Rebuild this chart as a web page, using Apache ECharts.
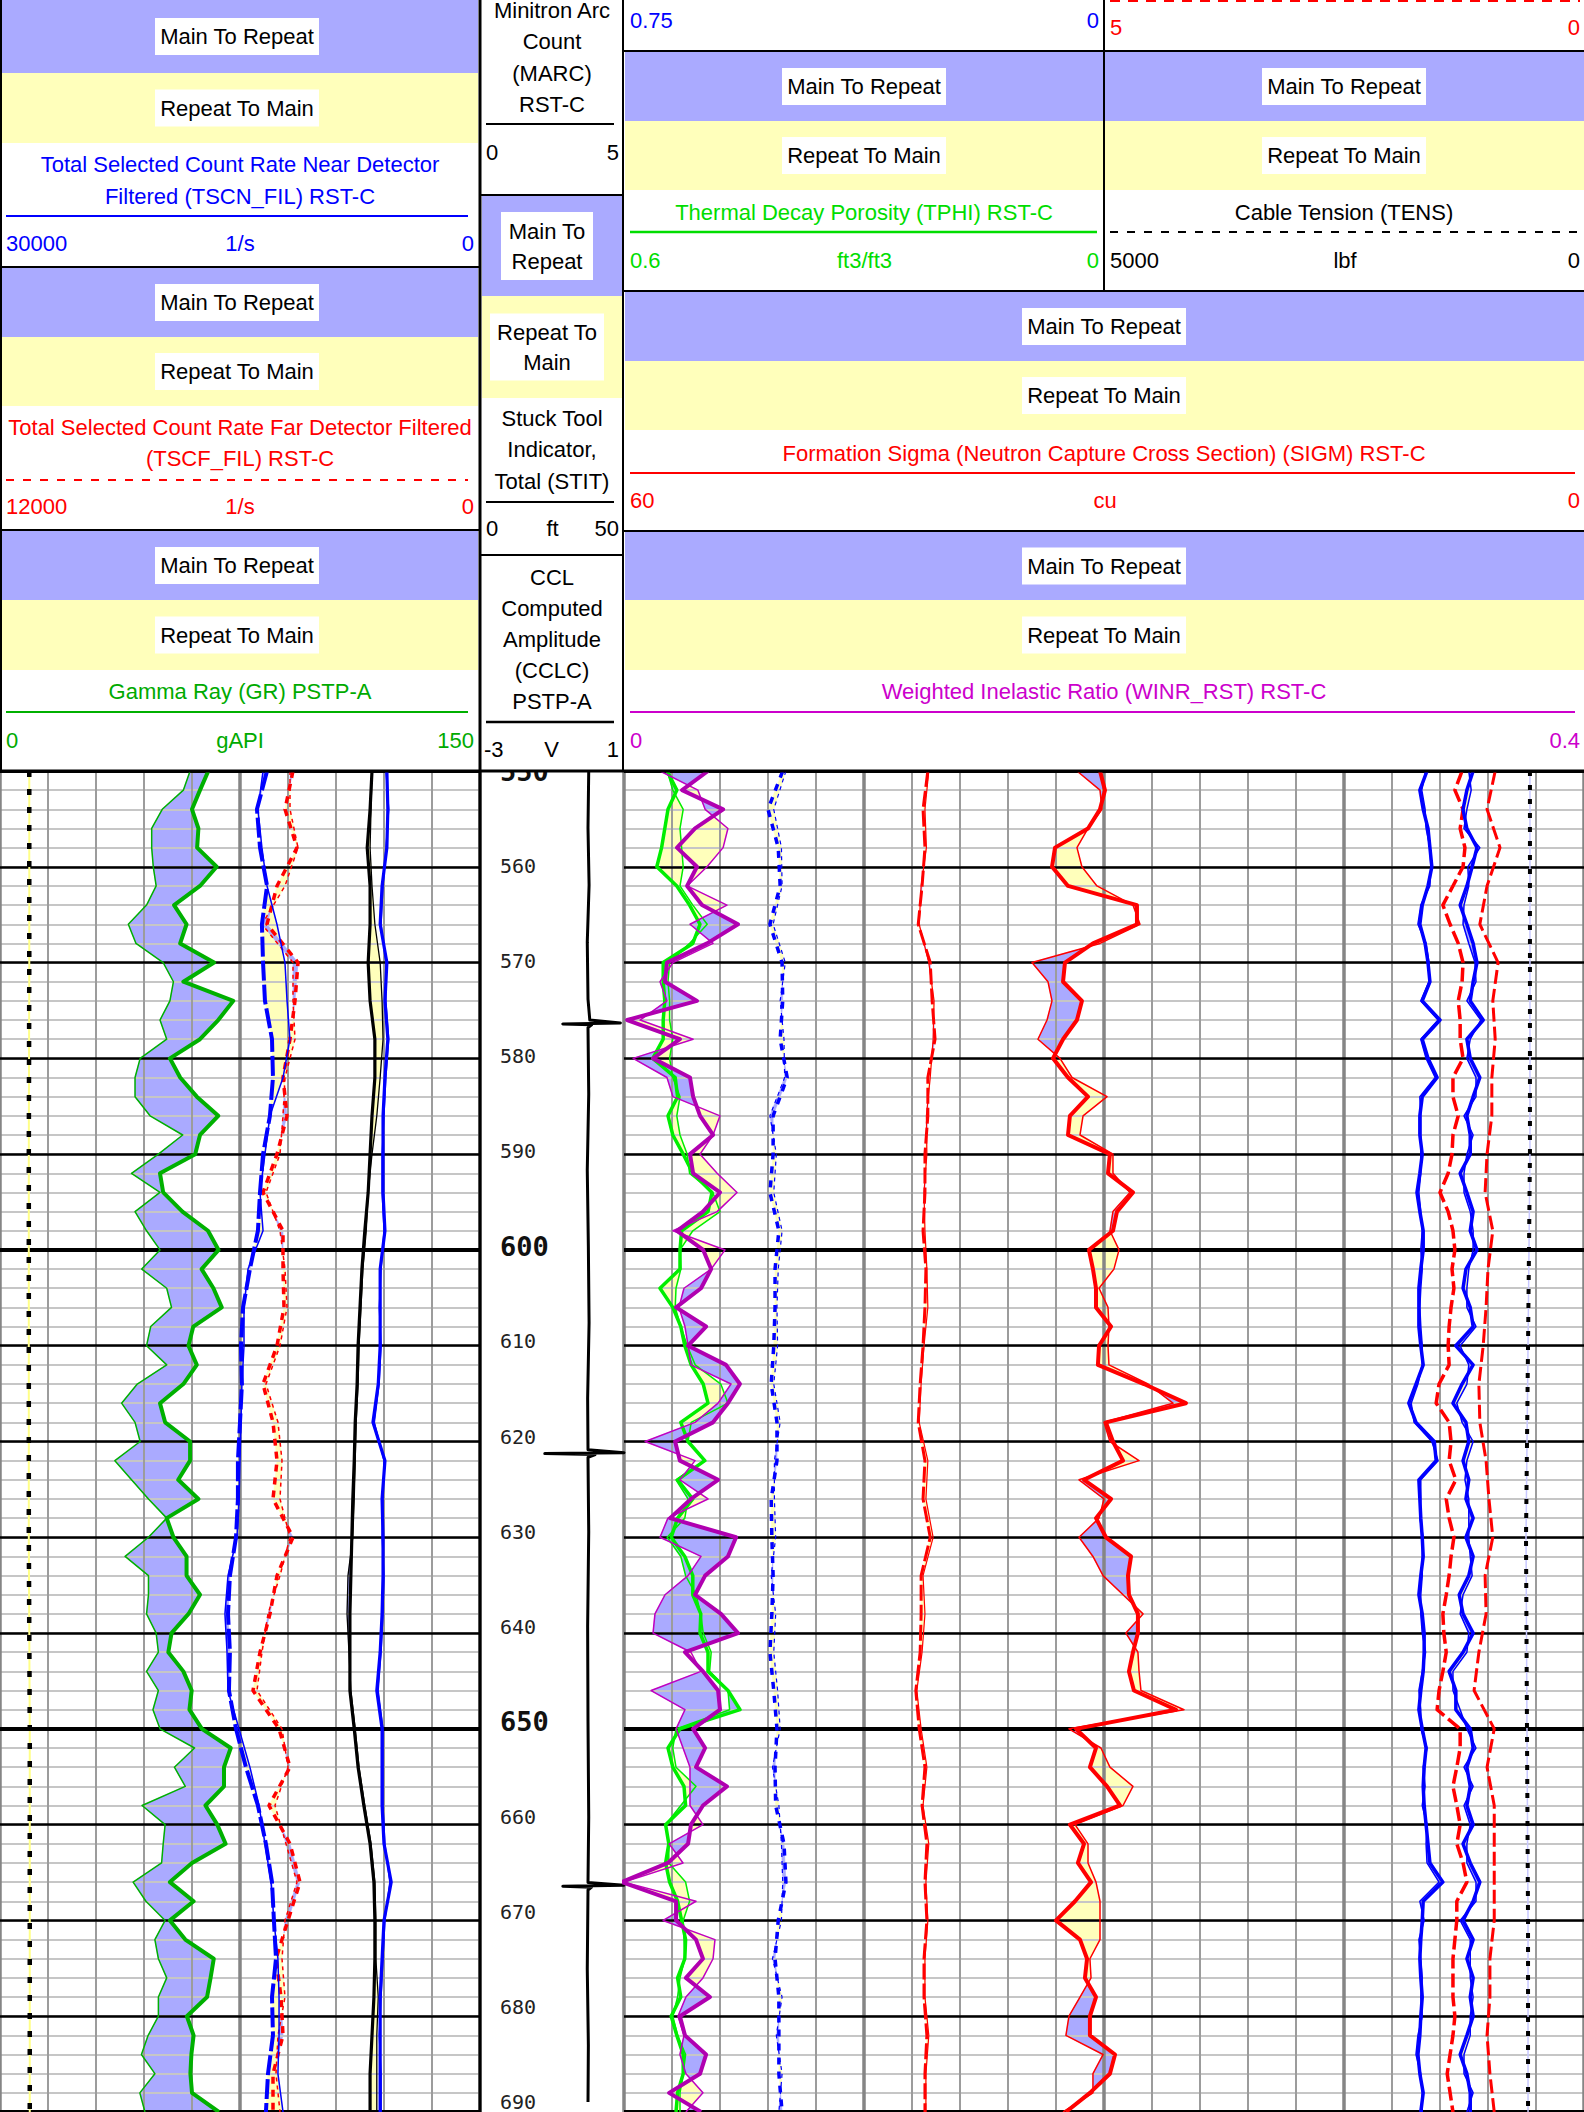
<!DOCTYPE html>
<html>
<head>
<meta charset="utf-8">
<title>Main / Repeat pass comparison log</title>
<script src="https://cdn.jsdelivr.net/npm/echarts@6.0.0/dist/echarts.min.js"></script>
<style>
  html, body { margin: 0; padding: 0; background: #fff; }
  #chart { width: 1584px; height: 2112px; }
</style>
</head>
<body>
<div id="chart"></div>
<script>
// ---- depth sampling (ft) ----
const depth2 = [550,552,554,556,558,560,562,564,566,568,570,572,574,576,578,580,582,584,586,588,590,592,594,596,598,600,
  602,604,606,608,610,612,614,616,618,620,622,624,626,628,630,632,634,636,638,640,642,644,646,648,
  650,652,654,656,658,660,662,664,666,668,670,672,674,676,678,680,682,684,686,688,690];
const depth4 = [550,554,558,562,566,570,574,578,582,586,590,594,598,602,606,610,614,618,622,626,630,634,638,642,646,650,654,658,662,666,670,674,678,682,686,690];
const depthMarks = [550,570,590,610,630,650,670,690];

// ---- track 1 ----
// Gamma Ray (gAPI), main and repeat pass
const grMain = [65.1,62.5,60,62,61.6,67.7,62.5,54.4,58.3,56.3,66.9,57.3,72.9,68.2,62.5,53.1,56.3,61.5,68.2,62.5,61,50,51,57,65,68.3,
  63,66.7,69.3,60.4,58.9,61.5,57.3,50,51.6,59.4,59.4,55.7,62,52.1,54.2,58.3,58.3,62.5,58.9,53.6,52.6,57.3,59.9,59.2,
  63.1,72.1,70,70,64.2,67.9,70.5,60,53.1,60.5,53.1,57.9,66.8,65.8,64.7,58.4,60.5,59.8,59.5,60,68.4];
const grRepeat = [59.4,57.3,50.7,47.4,47.4,47.9,48.8,45.8,40.1,42.5,51,54.2,53.1,50,52.1,43.8,42.2,42.2,46.9,57.1,49.5,41.1,50,42.2,45.8,50,
  44.3,52.1,53.6,47.1,45.8,52.1,42.9,38,42.2,43.8,35.9,41.1,46.4,52.1,46.4,39.1,46.4,46.4,45.8,48.8,49.5,45.8,49.5,47.8,
  50,60.8,54.5,57.9,44.4,51.6,51,50.5,41.6,45.6,51.6,48.4,49.5,52.1,49.5,49.5,46.3,44.2,48.4,43.7,45.3];
// Near / far detector count rates (1/s)
const tscnMain = [13310,13940,13750,13310,13630,13560,13440,13000,12940,13130,13560,13750,13880,14380,14810,14940,14880,15000,
  15130,15130,15250,15630,15750,15630,15690,15250,14630,13880,13380,13000,12880,12750,13000,12940,13250,13380];
const tscnRepeat = [13560,13880,13630,13310,12690,12190,12060,11880,12310,13130,13440,13750,13560,14500,14750,14750,14880,14940,
  15000,15060,15190,15750,15940,15810,15750,15060,14380,13810,13440,13060,12880,12630,12560,12560,12630,12310];
const tscfMain = [4675,4875,4575,5075,5325,4550,4625,4750,4925,4825,5075,5425,4925,4925,4900,5075,5425,5175,
  5075,5175,4675,5075,5250,5500,5675,5025,4750,5275,4750,4500,4800,5100,4975,4925,5175,5175];
const tscfRepeat = [4750,4750,4550,4875,5450,4675,4675,4625,4875,4925,5000,5350,5000,4875,4825,5000,5350,5050,
  4950,5000,4750,5000,5300,5450,5575,4950,4800,5125,4850,4575,4875,4950,4875,5050,5100,5000];
// curves whose headers are above the visible part (track divisions)
const trk1BlackMain = [7.75,7.71,7.65,7.71,7.71,7.67,7.71,7.81,7.81,7.75,7.71,7.67,7.6,7.54,7.5,7.46,7.44,7.4,
  7.38,7.35,7.33,7.31,7.29,7.29,7.29,7.38,7.46,7.58,7.71,7.79,7.81,7.81,7.79,7.75,7.71,7.71];
const trk1BlackRepeat = [7.75,7.73,7.71,7.75,7.81,7.92,7.96,7.98,7.92,7.85,7.75,7.67,7.63,7.56,7.52,7.48,7.46,7.42,
  7.4,7.38,7.35,7.25,7.23,7.27,7.31,7.4,7.48,7.6,7.73,7.81,7.83,7.83,7.88,7.85,7.85,7.85];
const trk1BlueMain = [8.06,8.08,8.06,7.96,7.92,8.06,8.02,8.08,8.02,7.98,7.98,7.98,8.02,7.92,7.92,7.92,7.88,7.77,
  8.02,7.96,7.98,7.98,7.96,7.92,7.85,7.96,7.96,7.96,8,8.15,8,7.96,7.92,7.92,7.92,7.92];
const trk1BlueRepeat = [8.04,8.1,8.04,7.98,7.94,8.04,8.04,8.1,8.04,8,7.96,7.96,8,7.94,7.9,7.94,7.9,7.8,
  8,7.98,7.96,8,7.98,7.94,7.88,7.98,7.98,7.98,8.02,8.12,8.02,7.98,7.94,7.9,7.94,7.94];
const trk1Dots = [0.61,0.61,0.6,0.6,0.6,0.62,0.62,0.62];

// ---- depth column: CCL amplitude (V) ----
const cclDepth = [550,556,562,568,574,576.2,576.5,576.6,576.7,577,584,592,600,608,616,621.4,621.7,621.8,621.9,622.2,
  630,640,650,660,666.9,667.2,667.3,667.4,667.7,676,684,690];
const cclValue = [0.02,0,0.03,-0.02,0,0.05,0.9,-0.7,0.1,0,0.02,-0.02,0.01,0.03,-0.01,0,1,-1.2,0.2,0,
  0.02,-0.01,0,0.02,0,1,-0.7,0.1,0,-0.02,0.01,0];

// ---- tracks 2 + 3 ----
// Weighted inelastic ratio
const winrMain = [0.035,0.0242,0.0413,0.0296,0.0221,0.0304,0.0263,0.0325,0.0475,0.0346,0.0179,0.0171,0.0304,0.0013,0.0233,0.0121,0.0275,0.0288,0.0317,0.0371,0.0275,0.0288,0.04,0.0329,0.0221,0.033,
  0.0363,0.0321,0.0217,0.0342,0.0267,0.0425,0.0483,0.0433,0.0371,0.0213,0.0233,0.0392,0.0279,0.0192,0.0467,0.0433,0.0338,0.0296,0.0404,0.0475,0.0254,0.0329,0.0392,0.04,
  0.0288,0.0338,0.03,0.0429,0.0329,0.0279,0.0267,0.0183,-0.001,0.0217,0.0217,0.03,0.0329,0.0258,0.0358,0.0233,0.0254,0.0342,0.0317,0.0188,0.0321];
const winrRepeat = [0.015,0.0308,0.0338,0.0433,0.0413,0.0346,0.0263,0.0429,0.0275,0.0371,0.0204,0.015,0.0179,0.0067,0.0288,0.0038,0.0179,0.0204,0.04,0.0371,0.0317,0.0388,0.0471,0.0388,0.0204,0.0421,
  0.0363,0.025,0.0229,0.0254,0.0267,0.0279,0.0446,0.0392,0.0296,0.0088,0.0296,0.0233,0.035,0.0183,0.015,0.0321,0.0267,0.0171,0.0129,0.0121,0.0279,0.0321,0.0113,0.0254,
  0.0217,0.0246,0.0275,0.0275,0.0275,0.0329,0.0188,0.0246,0,0.03,0.0163,0.0379,0.0371,0.0329,0.0258,0.0225,0.025,0.0233,0.0258,0.0329,0.0258];
// Thermal decay porosity (ft3/ft3)
const tphiMain = [0.546,0.534,0.545,0.549,0.553,0.559,0.534,0.518,0.505,0.514,0.551,0.551,0.549,0.551,0.551,0.564,0.536,0.533,0.545,0.539,0.526,0.514,0.49,0.495,0.528,0.53,
  0.53,0.555,0.539,0.529,0.524,0.516,0.501,0.495,0.529,0.52,0.499,0.533,0.514,0.533,0.541,0.524,0.514,0.514,0.504,0.505,0.495,0.495,0.47,0.455,
  0.53,0.545,0.539,0.525,0.523,0.548,0.544,0.548,0.543,0.533,0.528,0.523,0.524,0.533,0.529,0.541,0.534,0.526,0.526,0.533,0.535];
const tphiRepeat = [0.546,0.539,0.526,0.53,0.528,0.526,0.53,0.514,0.496,0.518,0.543,0.545,0.543,0.543,0.539,0.543,0.539,0.53,0.534,0.53,0.521,0.518,0.489,0.48,0.514,0.53,
  0.529,0.535,0.536,0.529,0.521,0.511,0.479,0.47,0.516,0.52,0.499,0.535,0.52,0.524,0.546,0.529,0.523,0.51,0.504,0.501,0.491,0.493,0.47,0.468,
  0.535,0.539,0.535,0.51,0.529,0.548,0.544,0.544,0.523,0.518,0.526,0.525,0.524,0.53,0.533,0.539,0.533,0.523,0.526,0.53,0.53];
// Formation sigma (cu)
const sigmMain = [30.25,29.94,30.25,31,33.06,33.25,32.25,27.94,27.94,30.69,32.44,32.56,31.38,31.69,32.56,33.19,32.25,31,32.13,32.25,29.63,29.75,28.19,29.19,29.44,30.94,
  30.69,30.5,30.5,29.56,30.31,30.38,27.5,24.88,29.88,29.44,28.81,31.25,29.56,30.5,29.88,28.31,28.5,28.44,27.88,27.88,28.19,28.44,28.13,25.5,
  31.75,30.5,30.88,29.81,29,32.13,31.25,31.63,30.81,31.81,33,31.5,31.06,31.19,30.5,30.88,30.88,29.31,29.63,30.88,32.38];
const sigmRepeat = [31.69,30.25,30.13,31,31.69,31.38,30.44,28.19,27.75,30.25,34.5,33.5,33.25,33.56,34.13,32.75,32,29.81,31.31,31.5,29.44,29.44,28.38,29.44,29.63,29.06,
  29.38,30.31,29.75,29.69,29.75,29.69,27.25,25.69,30,29.63,27.81,31.56,30,30.31,31.56,30.69,30.06,28.81,27.56,28.63,27.88,27.81,27.69,25,
  32.19,30.19,29.63,28.19,28.81,31.81,31,31,30.5,30.25,30.25,30.25,30.88,30.81,31.5,32.19,32.38,30.06,30.69,30.69,32.56];
// blue dashed curve on the 0.75 - 0 scale
const blueDashMain = [0.502,0.525,0.509,0.506,0.522,0.503,0.502,0.506,0.495,0.517,0.517,0.522,0.508,0.514,0.514,0.516,0.52,0.511,
  0.511,0.52,0.519,0.517,0.519,0.522,0.516,0.511,0.514,0.513,0.5,0.497,0.509,0.514,0.508,0.508,0.508,0.503];
const blueDashRepeat = [0.497,0.516,0.504,0.503,0.517,0.498,0.506,0.5,0.499,0.522,0.512,0.516,0.503,0.509,0.511,0.51,0.516,0.506,
  0.515,0.515,0.513,0.52,0.513,0.516,0.51,0.506,0.518,0.508,0.504,0.502,0.504,0.518,0.503,0.512,0.503,0.508];
// red dashed curve in track 2 (track divisions)
const redDashMain = [6.33,6.23,6.27,6.21,6.13,6.38,6.42,6.48,6.33,6.33,6.27,6.27,6.23,6.29,6.27,6.23,6.17,6.13,
  6.27,6.23,6.38,6.19,6.19,6.17,6.08,6.15,6.27,6.21,6.31,6.27,6.31,6.25,6.25,6.31,6.27,6.27];
const redDashRepeat = [6.35,6.27,6.3,6.19,6.15,6.35,6.46,6.44,6.38,6.3,6.31,6.25,6.27,6.31,6.33,6.25,6.19,6.15,
  6.33,6.29,6.44,6.23,6.27,6.21,6.1,6.19,6.31,6.23,6.35,6.29,6.33,6.27,6.27,6.35,6.29,6.29];
// track 3 curves (divisions from the track 3 left edge)
const trk3BlueMain = [6.73,6.58,6.65,6.75,6.79,6.83,6.75,6.63,6.58,6.69,6.75,6.79,6.63,7,6.63,6.75,6.94,6.63,6.58,6.58,6.63,6.58,6.52,6.58,6.65,6.65,
  6.6,6.56,6.56,6.56,6.6,6.65,6.5,6.35,6.5,6.88,6.92,6.56,6.58,6.6,6.63,6.65,6.6,6.56,6.63,6.67,6.67,6.65,6.6,6.56,
  6.63,6.71,6.67,6.65,6.67,6.71,6.75,6.79,7.06,6.65,6.63,6.6,6.58,6.6,6.63,6.6,6.58,6.54,6.58,6.65,6.6];
const trk3BlueRepeat = [6.7,6.62,6.69,6.71,6.79,6.81,6.79,6.6,6.54,6.71,6.77,6.77,6.6,6.96,6.6,6.71,6.9,6.58,6.6,6.6,6.6,6.6,6.56,6.6,6.63,6.6,
  6.63,6.6,6.58,6.6,6.63,6.63,6.54,6.4,6.46,6.83,6.96,6.6,6.6,6.58,6.65,6.63,6.63,6.6,6.6,6.63,6.7,6.63,6.56,6.6,
  6.6,6.73,6.65,6.69,6.63,6.73,6.71,6.73,6.98,6.58,6.67,6.56,6.6,6.63,6.6,6.63,6.54,6.5,6.6,6.63,6.63];
const trk3JagMain = [7.69,7.56,7.48,7.56,7.77,7.67,7.56,7.42,7.56,7.69,7.77,7.69,7.63,7.9,7.56,7.63,7.83,7.69,7.56,7.63,7.63,7.42,7.56,7.69,7.63,7.77,
  7.54,7.48,7.63,7.69,7.33,7.69,7.46,7.27,7.54,7.6,7.48,7.6,7.54,7.69,7.54,7.69,7.6,7.4,7.48,7.69,7.48,7.19,7.33,7.33,
  7.63,7.69,7.56,7.63,7.56,7.69,7.48,7.63,7.83,7.69,7.48,7.69,7.56,7.69,7.63,7.69,7.56,7.42,7.56,7.63,7.63];
const trk3JagRepeat = [7.6,7.65,7.56,7.5,7.83,7.58,7.6,7.5,7.48,7.6,7.73,7.75,7.56,7.85,7.63,7.56,7.75,7.75,7.5,7.69,7.56,7.5,7.5,7.63,7.69,7.69,
  7.6,7.56,7.56,7.75,7.42,7.6,7.56,7.35,7.46,7.69,7.56,7.52,7.6,7.6,7.6,7.63,7.67,7.48,7.42,7.6,7.56,7.27,7.27,7.42,
  7.56,7.75,7.5,7.69,7.5,7.63,7.56,7.56,7.75,7.75,7.42,7.63,7.63,7.63,7.69,7.63,7.63,7.5,7.5,7.69,7.56];
const trk3RedLeft = [7.46,7.31,7.48,7.42,7.52,7.48,7.27,7.06,7.21,7.38,7.48,7.46,7.38,7.42,7.42,7.48,7.27,7.27,7.38,7.27,7.25,7.17,7,7.17,7.27,7.31,
  7.25,7.29,7.23,7.19,7.17,7.19,6.98,6.92,7.19,7.23,7.19,7.33,7.13,7.19,7.29,7.23,7.19,7.13,7.06,7.08,7.13,7.06,6.98,6.94,
  7.42,7.42,7.35,7.27,7.35,7.42,7.35,7.48,7.56,7.35,7.35,7.31,7.27,7.27,7.27,7.31,7.27,7.21,7.15,7.21,7.27];
const trk3RedRight = [8.15,7.98,8.25,7.98,7.83,8.21,8.1,8.15,8.08,8.08,7.98,7.94,8.1,8,7.96,7.9,7.81,7.83,
  7.96,8.02,8.1,7.94,7.96,7.81,7.71,8.13,7.98,8.13,8.13,8.13,8.13,8.04,8.04,7.98,8.04,8.13];
// Cable tension (lbf)
const tensValue = [563,563,563,583,604,594,583,583];

// ---- styling ----
const BLUE_FILL = '#aaaaff';
const YELLOW_FILL = '#ffffbb';
const FONT = '"Liberation Sans", Arial, sans-serif';
const MONO = '"DejaVu Sans Mono", monospace';

// ---------------- header (graphic elements) ----------------
const header = [];

function box(x, y, w, h, fill) {
  header.push({ type: 'rect', z: 100, silent: true, shape: { x, y, width: w, height: h }, style: { fill } });
}

function rule(x1, y1, x2, y2, stroke, width, dash) {
  const style = { stroke, lineWidth: width };
  if (dash) style.lineDash = dash;
  header.push({ type: 'line', z: 101, silent: true, shape: { x1, y1, x2, y2 }, style });
}

function label(text, x, y, fill, align) {
  const a = align || 'center';
  header.push({
    type: 'text', z: 102, silent: true, x, y,
    style: { text, fill, fontSize: 22, fontFamily: FONT, align: a, verticalAlign: 'middle', textAlign: a, textVerticalAlign: 'middle' }
  });
}

// white tag with black text sitting on a band
function tag(lines, cx, cy, w, h) {
  box(cx - w / 2, cy - h / 2, w, h, '#fff');
  lines.forEach((t, i) => label(t, cx, cy + (i - (lines.length - 1) / 2) * 30, '#000'));
}

// Main To Repeat / Repeat To Main bands of one header block
function bands(x, w, top, mid, bottom, cx) {
  box(x, top, w, mid - top, BLUE_FILL);
  box(x, mid, w, bottom - mid, YELLOW_FILL);
  tag(['Main To Repeat'], cx, (top + mid) / 2, 164, 37);
  tag(['Repeat To Main'], cx, (mid + bottom) / 2, 164, 37);
}

function scaleRow(y, x1, x2, left, mid, right, color) {
  label(left, x1, y, color, 'left');
  if (mid) label(mid, (x1 + x2) / 2, y, color, 'center');
  label(right, x2, y, color, 'right');
}

function buildHeader() {
  box(0, 0, 1584, 771, '#fff');

  // left column: TSCN, TSCF, GR
  bands(2, 476, 0, 73, 143, 237);
  label('Total Selected Count Rate Near Detector', 240, 164, '#0000ff');
  label('Filtered (TSCN_FIL) RST-C', 240, 196, '#0000ff');
  rule(6, 216, 468, 216, '#0000ff', 2);
  scaleRow(243, 6, 474, '30000', '1/s', '0', '#0000ff');
  rule(0, 267, 480, 267, '#000', 2);

  bands(2, 476, 268, 337, 406, 237);
  label('Total Selected Count Rate Far Detector Filtered', 240, 427, '#ff0000');
  label('(TSCF_FIL) RST-C', 240, 458, '#ff0000');
  rule(6, 480, 468, 480, '#ff0000', 2, [8, 9]);
  scaleRow(506, 6, 474, '12000', '1/s', '0', '#ff0000');
  rule(0, 530, 480, 530, '#000', 2);

  bands(2, 476, 531, 600, 670, 237);
  label('Gamma Ray (GR) PSTP-A', 240, 691, '#00aa00');
  rule(6, 712, 468, 712, '#00b000', 2);
  scaleRow(740, 6, 474, '0', 'gAPI', '150', '#00aa00');

  // depth column
  ['Minitron Arc', 'Count', '(MARC)', 'RST-C'].forEach((t, i) => label(t, 552, 10 + i * 31.5, '#000'));
  rule(486, 124, 614, 124, '#000', 2);
  scaleRow(152, 486, 619, '0', '', '5', '#000');
  rule(480, 195, 623, 195, '#000', 2);
  box(482, 196, 140, 100, BLUE_FILL);
  box(482, 296, 140, 102, YELLOW_FILL);
  tag(['Main To', 'Repeat'], 547, 246, 92, 68);
  tag(['Repeat To', 'Main'], 547, 347, 114, 67);
  ['Stuck Tool', 'Indicator,', 'Total (STIT)'].forEach((t, i) => label(t, 552, 418 + i * 31.5, '#000'));
  rule(486, 502, 614, 502, '#000', 2);
  scaleRow(528, 486, 619, '0', 'ft', '50', '#000');
  rule(480, 555, 623, 555, '#000', 2);
  ['CCL', 'Computed', 'Amplitude', '(CCLC)', 'PSTP-A'].forEach((t, i) => label(t, 552, 577 + i * 31, '#000'));
  rule(486, 722, 614, 722, '#000', 2.5);
  scaleRow(749, 484, 619, '-3', 'V', '1', '#000');

  // right area: top remnants of blocks above
  label('0.75', 630, 20, '#0000ff', 'left');
  label('0', 1099, 20, '#0000ff', 'right');
  rule(1110, 1, 1580, 1, '#ff0000', 2, [10, 8]);
  label('5', 1110, 27, '#ff0000', 'left');
  label('0', 1580, 27, '#ff0000', 'right');
  rule(623, 51, 1584, 51, '#000', 2);

  // TPHI and TENS
  bands(625, 478, 52, 121, 190, 864);
  bands(1105, 479, 52, 121, 190, 1344);
  label('Thermal Decay Porosity (TPHI) RST-C', 864, 212, '#00dd00');
  rule(630, 232, 1097, 232, '#00dd00', 2.5);
  scaleRow(260, 630, 1099, '0.6', 'ft3/ft3', '0', '#00dd00');
  label('Cable Tension (TENS)', 1344, 212, '#000');
  rule(1110, 232, 1578, 232, '#000', 2, [8, 9]);
  scaleRow(260, 1110, 1580, '5000', 'lbf', '0', '#000');
  rule(1104, 0, 1104, 291, '#000', 2);
  rule(623, 291, 1584, 291, '#000', 2);

  // SIGM
  bands(625, 959, 292, 361, 430, 1104);
  label('Formation Sigma (Neutron Capture Cross Section) (SIGM) RST-C', 1104, 453, '#ff0000');
  rule(630, 473, 1575, 473, '#ff0000', 2);
  scaleRow(500, 630, 1580, '60', 'cu', '0', '#ff0000');
  rule(623, 531, 1584, 531, '#000', 2);

  // WINR
  bands(625, 959, 532, 600, 670, 1104);
  label('Weighted Inelastic Ratio (WINR_RST) RST-C', 1104, 691, '#cc00cc');
  rule(630, 712, 1575, 712, '#cc00cc', 2);
  scaleRow(740, 630, 1580, '0', '', '0.4', '#cc00cc');

  // frame
  rule(1, 0, 1, 771, '#000', 2);
  rule(480, 0, 480, 2112, '#000', 3);
  rule(623, 0, 623, 771, '#000', 2);
  rule(0, 771, 1584, 771, '#000', 3);
}

buildHeader();

// ---------------- axes ----------------
function hiddenX(gridIndex, min, max, extra) {
  return Object.assign({
    type: 'value', gridIndex, min, max,
    axisLine: { show: false }, axisTick: { show: false }, axisLabel: { show: false }, splitLine: { show: false }
  }, extra || {});
}

function gridX(gridIndex, max, interval, color, width, z) {
  return hiddenX(gridIndex, 0, max, { interval, z, splitLine: { show: true, lineStyle: { color, width } } });
}

function depthY(gridIndex, interval, color, width, z) {
  return {
    type: 'value', gridIndex, min: 550, max: 690, inverse: true, interval, z,
    axisLine: { show: false }, axisTick: { show: false }, axisLabel: { show: false },
    splitLine: { show: true, lineStyle: { color, width } }
  };
}

const xAxis = [
  gridX(0, 10, 1, '#9c9c9c', 2, 1),                 // 0 track 1 divisions
  gridX(0, 10, 5, '#858585', 3.5, 1),               // 1 track 1 heavy divisions
  hiddenX(0, 0, 150),                               // 2 GR
  hiddenX(0, 0, 30000, { inverse: true }),          // 3 TSCN
  hiddenX(0, 0, 12000, { inverse: true }),          // 4 TSCF
  hiddenX(1, -3, 1),                                // 5 CCL
  gridX(2, 20, 1, '#9c9c9c', 2, 1),                 // 6 tracks 2+3 divisions
  gridX(2, 20, 5, '#858585', 3.5, 1),               // 7 heavy divisions
  hiddenX(2, 0, 0.4),                               // 8 WINR
  hiddenX(2, 0, 60, { inverse: true }),             // 9 SIGM
  hiddenX(2, -0.6, 0.6, { inverse: true }),         // 10 TPHI (track 2 only)
  hiddenX(2, -0.75, 0.75, { inverse: true }),       // 11 blue dashed 0.75-0
  hiddenX(2, -10, 10),                              // 12 track 3 divisions
  hiddenX(2, 0, 10000, { inverse: true })           // 13 TENS (track 3 only)
];

const yAxis = [
  depthY(0, 2, '#c6c6c6', 2, 1),
  depthY(0, 10, '#000', 2.5, 2),
  depthY(0, 50, '#000', 4, 2),
  {
    type: 'value', gridIndex: 1, min: 550, max: 690, inverse: true, interval: 10, z: 3,
    axisLine: { show: false }, axisTick: { show: false }, splitLine: { show: false },
    axisLabel: {
      show: true, inside: true, margin: 20,
      formatter: v => (v % 50 === 0 ? '{b|' + v + '}' : v % 10 === 0 ? '{n|' + v + '}' : ''),
      rich: {
        n: { fontFamily: MONO, fontSize: 20, color: '#222' },
        b: { fontFamily: MONO, fontSize: 27, fontWeight: 'bold', color: '#111' }
      }
    }
  },
  depthY(2, 2, '#c6c6c6', 2, 1),
  depthY(2, 10, '#000', 2.5, 2),
  depthY(2, 50, '#000', 4, 2)
];

// ---------------- series helpers ----------------
function curve(xi, yi, depths, vals, color, width, dash) {
  return {
    type: 'line', xAxisIndex: xi, yAxisIndex: yi, z: 3, silent: true, clip: true,
    symbol: 'none', showSymbol: false, animation: false,
    data: depths.map((d, i) => [vals[i], d]),
    lineStyle: { color, width, type: dash || 'solid', join: 'round' }
  };
}

// fill between main and repeat pass: blue where main plots right of repeat, yellow otherwise
function renderFill(params, api) {
  const d1 = api.value(1), d2 = api.value(4);
  const p1 = api.coord([api.value(0), d1]), q1 = api.coord([api.value(2), d1]);
  const p2 = api.coord([api.value(3), d2]), q2 = api.coord([api.value(5), d2]);
  const s1 = p1[0] - q1[0], s2 = p2[0] - q2[0];
  const poly = (pts, s) => {
    const c = s > 0 ? BLUE_FILL : YELLOW_FILL;
    return { type: 'polygon', shape: { points: pts }, style: { fill: c, stroke: c, lineWidth: 0.6 } };
  };
  if (s1 * s2 >= 0) {
    const s = Math.abs(s1) >= Math.abs(s2) ? s1 : s2;
    return { type: 'group', children: [poly([p1, p2, q2, q1], s)] };
  }
  const t = s1 / (s1 - s2);
  const c = [p1[0] + t * (p2[0] - p1[0]), p1[1] + t * (p2[1] - p1[1])];
  return { type: 'group', children: [poly([p1, c, q1], s1), poly([c, p2, q2], s2)] };
}

function fill(xi, yi, depths, main, rep) {
  const data = [];
  for (let i = 0; i < depths.length - 1; i++) {
    data.push([main[i], depths[i], rep[i], main[i + 1], depths[i + 1], rep[i + 1]]);
  }
  return {
    type: 'custom', xAxisIndex: xi, yAxisIndex: yi, z: 0, silent: true, clip: true, animation: false,
    encode: { x: [0, 2, 3, 5], y: [1, 4] }, data, renderItem: renderFill
  };
}

const series = [
  // fills
  fill(2, 0, depth2, grMain, grRepeat),
  fill(3, 0, depth4, tscnMain, tscnRepeat),
  fill(4, 0, depth4, tscfMain, tscfRepeat),
  fill(0, 0, depth4, trk1BlackMain, trk1BlackRepeat),
  fill(0, 0, depth4, trk1BlueMain, trk1BlueRepeat),
  fill(11, 4, depth4, blueDashMain, blueDashRepeat),
  fill(6, 4, depth4, redDashMain, redDashRepeat),
  fill(10, 4, depth2, tphiMain, tphiRepeat),
  fill(8, 4, depth2, winrMain, winrRepeat),
  fill(9, 4, depth2, sigmMain, sigmRepeat),
  fill(12, 4, depth2, trk3BlueMain, trk3BlueRepeat),
  fill(12, 4, depth2, trk3JagMain, trk3JagRepeat),

  // track 1 curves
  curve(0, 0, depthMarks, trk1Dots, '#ffff88', 2),
  curve(0, 0, depthMarks, trk1Dots, '#000', 4.5, [6, 12]),
  curve(2, 0, depth2, grRepeat, '#00b000', 1.5),
  curve(2, 0, depth2, grMain, '#00b000', 4),
  curve(4, 0, depth4, tscfRepeat, '#ff0000', 1.5, [4, 4]),
  curve(4, 0, depth4, tscfMain, '#ff0000', 3.5, [7, 6]),
  curve(3, 0, depth4, tscnRepeat, '#0000ff', 1.5),
  curve(3, 0, depth4, tscnMain, '#0000ff', 4, [20, 4]),
  curve(0, 0, depth4, trk1BlackRepeat, '#000', 1.3),
  curve(0, 0, depth4, trk1BlackMain, '#000', 3.2),
  curve(0, 0, depth4, trk1BlueRepeat, '#0000ff', 1.3),
  curve(0, 0, depth4, trk1BlueMain, '#0000ff', 3.2),

  // depth column
  curve(5, 3, cclDepth, cclValue, '#000', 3),

  // tracks 2 + 3
  curve(11, 4, depth4, blueDashRepeat, '#0000ff', 1.2, [4, 4]),
  curve(11, 4, depth4, blueDashMain, '#0000ff', 3.5, [7, 7]),
  curve(6, 4, depth4, redDashRepeat, '#ff0000', 1.2),
  curve(6, 4, depth4, redDashMain, '#ff0000', 3, [16, 4]),
  curve(10, 4, depth2, tphiRepeat, '#00ee00', 1.5),
  curve(10, 4, depth2, tphiMain, '#00ee00', 3.5),
  curve(8, 4, depth2, winrRepeat, '#c000c0', 1.5),
  curve(8, 4, depth2, winrMain, '#b000b0', 4),
  curve(9, 4, depth2, sigmRepeat, '#ff0000', 1.5),
  curve(9, 4, depth2, sigmMain, '#ff0000', 4),
  curve(12, 4, depth2, trk3BlueRepeat, '#0000ff', 1.5),
  curve(12, 4, depth2, trk3BlueMain, '#0000ff', 3.5),
  curve(12, 4, depth2, trk3RedLeft, '#ff0000', 3.5, [14, 5]),
  curve(12, 4, depth2, trk3JagRepeat, '#0000ff', 1.5),
  curve(12, 4, depth2, trk3JagMain, '#0000ff', 3.5),
  curve(12, 4, depth4, trk3RedRight, '#ff0000', 3, [14, 5]),
  curve(13, 4, depthMarks, tensValue, '#c8c8ff', 1.5),
  curve(13, 4, depthMarks, tensValue, '#000', 4, [5, 9])
];

const chart = echarts.init(document.getElementById('chart'), null, { renderer: 'svg', width: 1584, height: 2112 });
chart.setOption({
  animation: false,
  backgroundColor: '#fff',
  grid: [
    { left: 0, top: 771, width: 480, height: 1344 },
    { left: 480, top: 771, width: 144, height: 1344 },
    { left: 624, top: 771, width: 960, height: 1344 }
  ],
  xAxis,
  yAxis,
  graphic: { elements: header },
  series
});
</script>
</body>
</html>
